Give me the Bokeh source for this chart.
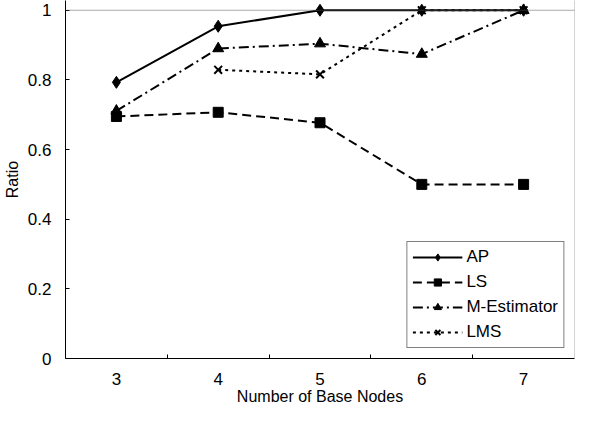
from bokeh.plotting import figure
from bokeh.models import Range1d, FixedTicker, Legend, LegendItem, Span
from bokeh.embed import file_html
from bokeh.resources import INLINE

nodes = [3, 4, 5, 6, 7]
ap = [0.793, 0.954, 1.0, 1.0, 1.0]
ls = [0.695, 0.707, 0.677, 0.5, 0.5]
m_est = [0.711, 0.890, 0.904, 0.874, 1.0]
lms_nodes = [4, 5, 6, 7]
lms = [0.829, 0.816, 1.0, 1.0]
y_ticks = [0, 0.2, 0.4, 0.6, 0.8, 1.0]
y_labels = {0: "0", 0.2: "0.2", 0.4: "0.4", 0.6: "0.6", 0.8: "0.8", 1.0: "1"}

FONT = "Liberation Sans"

p = figure(width=576, height=407, output_backend="svg", toolbar_location=None,
           x_range=Range1d(2.5, 7.5), y_range=Range1d(0, 1.028),
           min_border_left=64, min_border_right=2, min_border_top=0, min_border_bottom=44)
p.grid.visible = False
p.outline_line_color = None
p.background_fill_color = "white"
p.border_fill_color = "white"

# dotted top and right border of the plot area
p.add_layout(Span(location=1.0, dimension="width", line_color="#555555",
                  line_dash="1 1", line_width=1))
p.add_layout(Span(location=7.5, dimension="height", line_color="#555555",
                  line_dash="1 1", line_width=1))

# x axis
p.xaxis.ticker = FixedTicker(ticks=nodes, minor_ticks=[3.5, 4.5, 5.5, 6.5])
p.xaxis.major_tick_line_color = None
p.xaxis.minor_tick_in = 4
p.xaxis.minor_tick_out = 0
p.xaxis.minor_tick_line_color = "black"
p.xaxis.axis_line_color = "black"
p.xaxis.axis_label = "Number of Base Nodes"
p.xaxis.major_label_standoff = 8
p.xaxis.axis_label_standoff = 0

# y axis
p.yaxis.ticker = FixedTicker(ticks=y_ticks)
p.yaxis.major_label_overrides = y_labels
p.yaxis.major_tick_in = 4
p.yaxis.major_tick_out = 0
p.yaxis.minor_tick_line_color = None
p.yaxis.axis_line_color = "black"
p.yaxis.axis_label = "Ratio"
p.yaxis.major_label_standoff = 14
p.yaxis.axis_label_standoff = 4

for ax in (p.xaxis, p.yaxis):
    ax.major_label_text_font = FONT
    ax.major_label_text_font_size = "17px"
    ax.major_label_text_color = "black"
    ax.axis_label_text_font = FONT
    ax.axis_label_text_font_size = "16px"
    ax.axis_label_text_font_style = "normal"
    ax.axis_label_text_color = "black"

l1 = p.line(nodes, ap, line_color="black", line_width=2)
s1 = p.scatter(nodes, ap, marker="diamond", size=12, color="black")
l2 = p.line(nodes, ls, line_color="black", line_width=2, line_dash="9 5")
s2 = p.scatter(nodes, ls, marker="square", size=10, color="black")
l3 = p.line(nodes, m_est, line_color="black", line_width=2, line_dash="10 4 2 4")
s3 = p.scatter(nodes, m_est, marker="triangle", size=11, color="black")
l4 = p.line(lms_nodes, lms, line_color="black", line_width=2, line_dash="3 4")
s4 = p.scatter(lms_nodes, lms, marker="x", size=11, color="black", line_width=2)

legend = Legend(items=[
    LegendItem(label="AP", renderers=[l1, s1]),
    LegendItem(label="LS", renderers=[l2, s2]),
    LegendItem(label="M-Estimator", renderers=[l3, s3]),
    LegendItem(label="LMS", renderers=[l4, s4]),
], location="bottom_right")
legend.glyph_width = 50
legend.glyph_height = 18
legend.label_standoff = 4
legend.spacing = 5
legend.padding = 5
legend.margin = 10
legend.label_text_font = FONT
legend.label_text_font_size = "17px"
legend.label_text_color = "black"
legend.border_line_color = "black"
legend.border_line_width = 1
legend.background_fill_alpha = 1
p.add_layout(legend, "center")

open("out.html", "w").write(file_html(p, INLINE))
